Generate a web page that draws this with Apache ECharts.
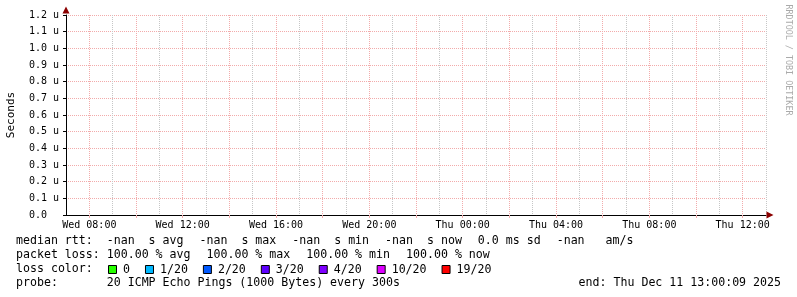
<!DOCTYPE html>
<html><head><meta charset="utf-8">
<script src="https://cdn.jsdelivr.net/npm/echarts@6/dist/echarts.min.js"></script>
<style>html,body{margin:0;padding:0;background:#fff}#c{width:797px;height:297px}</style>
</head><body><div id="c"></div>
<script>
// ---- data (hours since Wed 00:00; values in micro-seconds) ----
const hourStart = 7;            // Wed 07:00
const hourEnd = 37;             // Thu 13:00
const majorTickHours = [8,10,12,14,16,18,20,22,24,26,28,30,32,34,36];
const labelHours = [8,12,16,20,24,28,32,36];
const yMin = 0, yMax = 1.2, yStep = 0.1;   // u-seconds
const medianRtt = [];           // no samples: all -nan
const lossLabels = ['0','1/20','2/20','3/20','4/20','10/20','19/20'];
const lossColors = ['#26ff00','#00b8ff','#0059ff','#5e00ff','#7e00ff','#dd00ff','#ff0000'];
const rowMedian = ['median rtt:','-nan  s avg','-nan  s max','-nan  s min','-nan  s now','0.0 ms sd','-nan   am/s'];
const rowLoss = ['packet loss:','100.00 % avg','100.00 % max','100.00 % min','100.00 % now'];
const rowLossColor = ['loss color:'];
const rowProbe = ['probe:','20 ICMP Echo Pings (1000 Bytes) every 300s'];
const endText = 'end: Thu Dec 11 13:00:09 2025';
const unitText = 'Seconds';
const watermark = 'RRDTOOL / TOBI OETIKER';

// ---- layout ----
const MONO = '"DejaVu Sans Mono", monospace';
const LFS = 11.6, CW = 6.98, GLUE = 16;
const PINK = '#F2ABAB', GRAY = '#C6C6C6', ARROW = '#8B0000';

function dayLabel(h){
  const hr = Math.round(h);
  const d = hr < 24 ? 'Wed' : 'Thu';
  return d + ' ' + String(hr % 24).padStart(2,'0') + ':00';
}
const graphics = [];
function addRow(items, y){
  let x = 16;
  items.forEach((t,i)=>{
    if (i === 1) x = 16 + 13*CW;
    graphics.push({type:'text', x:x, y:y, silent:true,
      style:{text:t, fontFamily:MONO, fontSize:LFS, fill:'#000', verticalAlign:'middle', align:'left'}});
    x += t.length*CW + GLUE;
  });
}
addRow(rowMedian, 241);
addRow(rowLoss, 255);
addRow(rowLossColor, 269);
addRow(rowProbe, 283);
graphics.push({type:'text', x:781, y:283, silent:true,
  style:{text:endText, fontFamily:MONO, fontSize:LFS, fill:'#000', verticalAlign:'middle', align:'right'}});
graphics.push({type:'text', x:11, y:115, rotation:Math.PI/2, silent:true,
  style:{text:unitText, fontFamily:MONO, fontSize:11, fill:'#000', verticalAlign:'middle', align:'center'}});
graphics.push({type:'text', x:788, y:60, rotation:-Math.PI/2, silent:true,
  style:{text:watermark, fontFamily:MONO, fontSize:8.4, fill:'#AAAAAA', verticalAlign:'middle', align:'center'}});

const chart = echarts.init(document.getElementById('c'), null, {renderer:'canvas'});
chart.setOption({
  animation:false,
  backgroundColor:'#ffffff',
  grid:{left:66, right:31, top:15, bottom:82, containLabel:false},
  xAxis:[{
    type:'value', min:hourStart, max:hourEnd, interval:1,
    axisLine:{show:true, onZero:false, lineStyle:{color:'#000', width:1}},
    axisTick:{show:false}, axisLabel:{show:false},
    splitLine:{show:true, lineStyle:{color:[GRAY, PINK], type:[1,1], width:1}}
  },{
    type:'value', min:hourStart, max:hourEnd, interval:1, position:'bottom',
    axisLine:{show:true, onZero:false, lineStyle:{color:ARROW, width:0},
      symbol:['none','triangle'], symbolSize:[7,7], symbolOffset:[0,4]},
    axisTick:{show:true, inside:false, length:3, customValues:majorTickHours, lineStyle:{color:PINK}},
    axisLabel:{show:true, customValues:labelHours, formatter:v=>dayLabel(v), margin:5,
      fontFamily:MONO, fontSize:10, color:'#000'},
    splitLine:{show:false}
  }],
  yAxis:[{
    type:'value', min:yMin, max:yMax, interval:yStep,
    axisLine:{show:true, onZero:false, lineStyle:{color:'#000', width:1}},
    axisTick:{show:true, length:3, lineStyle:{color:'#000'}},
    axisLabel:{show:true, margin:7, fontFamily:MONO, fontSize:10, color:'#000',
      formatter:v=> (Math.abs(v) < 1e-9 ? '0.0  ' : v.toFixed(1) + ' u')},
    splitLine:{show:true, lineStyle:{color:PINK, type:[1,1], width:1}}
  },{
    type:'value', min:yMin, max:yMax, interval:yStep, position:'left',
    axisLine:{show:true, onZero:false, lineStyle:{color:ARROW, width:0},
      symbol:['none','triangle'], symbolSize:[7,7], symbolOffset:[0,5]},
    axisTick:{show:false}, axisLabel:{show:false}, splitLine:{show:false}
  }],
  legend:{
    left:108, top:262.5, padding:0, itemGap:15, itemWidth:8, itemHeight:8, icon:'rect',
    selectedMode:false,
    itemStyle:{borderColor:'#000', borderWidth:1},
    formatter:'{t|{name}}',
    textStyle:{fontFamily:MONO, fontSize:LFS, color:'#000', lineHeight:14,
      rich:{t:{fontFamily:MONO, fontSize:LFS, color:'#000', lineHeight:14, padding:[0,0,0,1.5]}}},
    data:lossLabels
  },
  series: lossLabels.map((name,i)=>({
    type:'bar', name:name, xAxisIndex:0, yAxisIndex:0,
    itemStyle:{color:lossColors[i]},
    data: medianRtt.map(p=>p)
  })),
  graphic: graphics
});
</script>
</body></html>
